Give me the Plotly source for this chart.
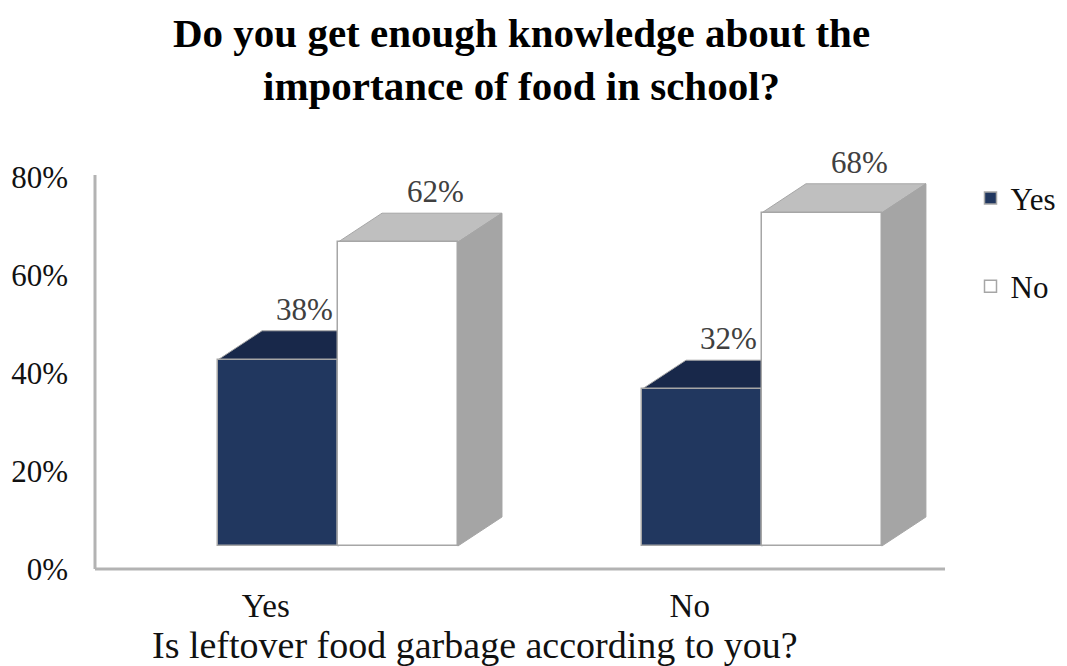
import plotly.graph_objects as go

# Survey answers (percent of respondents)
categories = ["Yes", "No"]
series_names = ["Yes", "No"]
yes_values = [38, 32]
no_values = [62, 68]
y_ticks = [0, 20, 40, 60, 80]
y_tick_text = ["0%", "20%", "40%", "60%", "80%"]

title_text = "<b>Do you get enough knowledge about the<br>importance of food in school?</b>"
x_title = "Is leftover food garbage according to you?"

# Geometry of the pseudo-3D columns (axis units)
bar_w = 0.283
depth_x = 0.104
depth_y = 5.92
serif = "Liberation Serif, Times New Roman, serif"

colors = {
    "Yes": {"front": "#21375F", "top": "#18284A", "side": "#18284A"},
    "No": {"front": "#FFFFFF", "top": "#BFBFBF", "side": "#A5A5A5"},
}
edge = "#A6A6A6"

fig = go.Figure()
xs = list(range(len(categories)))
series = [(series_names[0], yes_values, -bar_w, 0.6), (series_names[1], no_values, 0.0, 0.85)]
for name, vals, off, _ in series:
    fig.add_trace(go.Bar(
        x=xs, y=vals, name=name, width=bar_w, offset=off,
        marker=dict(color=colors[name]["front"], line=dict(color=edge, width=1.5)),
        legendgroup=name, hoverinfo="skip",
    ))

shapes = []
annotations = []
for name, vals, off, lab_shift in series:
    for i, v in enumerate(vals):
        x0 = i + off
        x1 = x0 + bar_w
        # top face
        shapes.append(dict(
            type="path", xref="x", yref="y", layer="below",
            path=f"M {x0},{v} L {x1},{v} L {x1 + depth_x},{v + depth_y} L {x0 + depth_x},{v + depth_y} Z",
            fillcolor=colors[name]["top"], line=dict(color=edge, width=1),
        ))
        # right side face
        shapes.append(dict(
            type="path", xref="x", yref="y", layer="below",
            path=f"M {x1},0 L {x1},{v} L {x1 + depth_x},{v + depth_y} L {x1 + depth_x},{depth_y} Z",
            fillcolor=colors[name]["side"], line=dict(color=colors[name]["side"], width=1),
        ))
        annotations.append(dict(
            x=x0 + bar_w / 2 + depth_x * lab_shift, y=v + depth_y, xref="x", yref="y",
            text=f"{v}%", showarrow=False, yanchor="bottom", yshift=2,
            font=dict(family=serif, size=31, color="#404040"),
        ))

# axis frame lines (left wall edge and floor)
shapes.append(dict(type="line", xref="paper", yref="y2", x0=0, x1=0, y0=0, y1=80.4,
                   line=dict(color="#B3B3B3", width=3), layer="below"))
shapes.append(dict(type="line", xref="paper", yref="y2", x0=0, x1=1, y0=0, y1=0,
                   line=dict(color="#B3B3B3", width=3), layer="below"))

# axis caption under the category labels
annotations.append(dict(
    x=0.447, y=-0.162, xref="paper", yref="paper", text=x_title, showarrow=False,
    xanchor="center", yanchor="middle", font=dict(family=serif, size=38, color="#111111"),
))
# chart title
annotations.append(dict(
    x=0.502, y=1.304, xref="paper", yref="paper", text=title_text, showarrow=False,
    xanchor="center", yanchor="top", align="center",
    font=dict(family=serif, size=41, color="#000000"),
))

# invisible trace to carry the secondary y axis with the tick labels
fig.add_trace(go.Scatter(x=[0], y=[0], yaxis="y2", mode="markers",
                         marker=dict(opacity=0), showlegend=False, hoverinfo="skip"))

fig.update_layout(
    width=1067, height=666,
    margin=dict(l=95, r=122, t=140, b=91, autoexpand=False),
    paper_bgcolor="white", plot_bgcolor="rgba(0,0,0,0)",
    xaxis=dict(range=[-0.573, 1.432], tickvals=[i - 0.17 for i in xs], ticktext=categories,
               showgrid=False, zeroline=False, showline=False, ticks="",
               ticklabelstandoff=8, automargin=False,
               tickfont=dict(family=serif, size=33, color="#111111")),
    yaxis=dict(range=[-5.918, 82.857], showgrid=False, zeroline=False, showline=False,
               showticklabels=False, ticks="", automargin=False),
    yaxis2=dict(range=[-1.224, 87.55], overlaying="y", side="left", tickvals=y_ticks,
                ticktext=y_tick_text, showgrid=False, zeroline=False, showline=False,
                ticks="", ticklabelstandoff=26, automargin=False,
                tickfont=dict(family=serif, size=31, color="#111111")),
    legend=dict(x=1.03, y=0.928, xanchor="left", yanchor="top", xref="paper", yref="paper",
                font=dict(family=serif, size=31, color="#111111"),
                tracegroupgap=45, traceorder="grouped", bgcolor="rgba(0,0,0,0)"),
    shapes=shapes, annotations=annotations, bargap=0, showlegend=True,
)

fig.write_html("out.html")
